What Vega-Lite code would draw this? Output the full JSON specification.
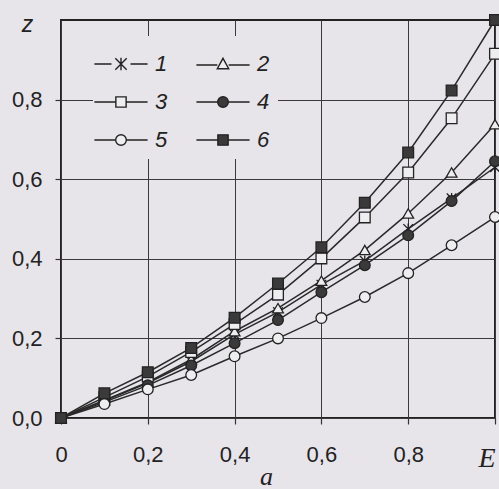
{
  "$schema": "https://vega.github.io/schema/vega-lite/v6.json",
  "width": 434,
  "height": 398,
  "autosize": "none",
  "padding": {"left": 61, "top": 20, "right": 4, "bottom": 71},
  "background": "#e7e5ea",
  "config": {"view": {"stroke": "#222", "strokeWidth": 2}, "font": "Liberation Sans"},
  "data": {"values": [
    {"s":"1","x":0,"z":0},{"s":"1","x":0.1,"z":0.043},{"s":"1","x":0.2,"z":0.088},{"s":"1","x":0.3,"z":0.142},{"s":"1","x":0.4,"z":0.21},{"s":"1","x":0.5,"z":0.266},{"s":"1","x":0.6,"z":0.335},{"s":"1","x":0.7,"z":0.395},{"s":"1","x":0.8,"z":0.475},{"s":"1","x":0.9,"z":0.552},{"s":"1","x":1.0,"z":0.63},
    {"s":"2","x":0,"z":0},{"s":"2","x":0.1,"z":0.045},{"s":"2","x":0.2,"z":0.09},{"s":"2","x":0.3,"z":0.147},{"s":"2","x":0.4,"z":0.218},{"s":"2","x":0.5,"z":0.276},{"s":"2","x":0.6,"z":0.345},{"s":"2","x":0.7,"z":0.422},{"s":"2","x":0.8,"z":0.514},{"s":"2","x":0.9,"z":0.617},{"s":"2","x":1.0,"z":0.738},
    {"s":"3","x":0,"z":0},{"s":"3","x":0.1,"z":0.052},{"s":"3","x":0.2,"z":0.104},{"s":"3","x":0.3,"z":0.166},{"s":"3","x":0.4,"z":0.236},{"s":"3","x":0.5,"z":0.31},{"s":"3","x":0.6,"z":0.401},{"s":"3","x":0.7,"z":0.504},{"s":"3","x":0.8,"z":0.617},{"s":"3","x":0.9,"z":0.753},{"s":"3","x":1.0,"z":0.915},
    {"s":"4","x":0,"z":0},{"s":"4","x":0.1,"z":0.04},{"s":"4","x":0.2,"z":0.082},{"s":"4","x":0.3,"z":0.132},{"s":"4","x":0.4,"z":0.188},{"s":"4","x":0.5,"z":0.246},{"s":"4","x":0.6,"z":0.316},{"s":"4","x":0.7,"z":0.384},{"s":"4","x":0.8,"z":0.459},{"s":"4","x":0.9,"z":0.545},{"s":"4","x":1.0,"z":0.645},
    {"s":"5","x":0,"z":0},{"s":"5","x":0.1,"z":0.035},{"s":"5","x":0.2,"z":0.072},{"s":"5","x":0.3,"z":0.108},{"s":"5","x":0.4,"z":0.155},{"s":"5","x":0.5,"z":0.2},{"s":"5","x":0.6,"z":0.251},{"s":"5","x":0.7,"z":0.304},{"s":"5","x":0.8,"z":0.364},{"s":"5","x":0.9,"z":0.434},{"s":"5","x":1.0,"z":0.505},
    {"s":"6","x":0,"z":0},{"s":"6","x":0.1,"z":0.062},{"s":"6","x":0.2,"z":0.115},{"s":"6","x":0.3,"z":0.176},{"s":"6","x":0.4,"z":0.252},{"s":"6","x":0.5,"z":0.338},{"s":"6","x":0.6,"z":0.429},{"s":"6","x":0.7,"z":0.541},{"s":"6","x":0.8,"z":0.667},{"s":"6","x":0.9,"z":0.823},{"s":"6","x":1.0,"z":1.0}
  ]},
  "encoding": {
    "x": {"field": "x", "type": "quantitative", "scale": {"domain": [0, 1], "nice": false},
      "axis": {"values": [0, 0.2, 0.4, 0.6, 0.8, 1],
        "labelExpr": "datum.value == 0 ? '0' : datum.value == 1 ? 'E' : replace(format(datum.value, '.1f'), '.', ',')",
        "labelFont": {"condition": {"test": "datum.value == 1", "value": "Liberation Serif"}, "value": "Liberation Sans"},
        "labelFontStyle": {"condition": {"test": "datum.value == 1", "value": "italic"}, "value": "normal"},
        "labelFontSize": {"condition": {"test": "datum.value == 1", "value": 28}, "value": 22},
        "labelAlign": {"condition": {"test": "datum.value == 1", "value": "right"}, "value": "center"},
        "labelColor": "#222", "labelPadding": 20, "labelBaseline": "top", "labelFlush": false, "labelOverlap": false,
        "tickSize": 6, "tickColor": "#333", "tickWidth": 1.2, "domain": false,
        "grid": true, "gridColor": "#3a3a3a", "gridWidth": 1, "gridOpacity": 1,
        "title": "a", "titleFont": "Liberation Serif", "titleFontStyle": "italic", "titleFontWeight": "normal", "titleFontSize": 26, "titleColor": "#222",
        "titleX": 205, "titleY": 58, "titleBaseline": "middle", "titleAlign": "center"}},
    "y": {"field": "z", "type": "quantitative", "scale": {"domain": [0, 1], "nice": false},
      "axis": {"values": [0, 0.2, 0.4, 0.6, 0.8],
        "labelExpr": "replace(format(datum.value, '.1f'), '.', ',')",
        "labelFontSize": 22, "labelColor": "#222", "labelPadding": 13,
        "tickSize": 6, "tickColor": "#333", "tickWidth": 1.2, "domain": false,
        "grid": true, "gridColor": "#3a3a3a", "gridWidth": 1, "gridOpacity": 1,
        "title": "z", "titleAngle": 0, "titleFont": "Liberation Sans", "titleFontStyle": "italic", "titleFontWeight": "normal", "titleFontSize": 23, "titleColor": "#222",
        "titleX": -34, "titleY": 4, "titleAlign": "center", "titleBaseline": "middle"}}
  },
  "layer": [
    {"mark": {"type": "line", "stroke": "#2a2a2a", "strokeWidth": 1.5},
     "encoding": {"detail": {"field": "s", "type": "nominal"}}},
    {"mark": {"type": "point", "filled": true, "stroke": "#222", "strokeWidth": 1.3, "size": 115, "opacity": 1},
     "encoding": {
       "shape": {"field": "s", "type": "nominal",
         "scale": {"domain": ["6","5","4","3","2","1"], "range": ["square", "circle", "circle", "square", "triangle-up", "M0,-1V1M-0.9,-0.9L0.9,0.9M-0.9,0.9L0.9,-0.9"]},
         "legend": null},
       "fill": {"field": "s", "type": "nominal",
         "scale": {"domain": ["1","2","3","4","5","6"], "range": ["#e7e5ea", "#eeedf0", "#eeedf0", "#3a3a3a", "#eeedf0", "#3a3a3a"]},
         "legend": {"orient": "none", "legendX": 32, "legendY": 16, "columns": 2, "direction": "horizontal", "title": null,
           "symbolSize": 1444,
           "symbolType": {"expr": "datum.value == '1' ? 'M-1.4,0H-0.5M0.5,0H1.4M0,-0.33V0.33M-0.3,-0.3L0.3,0.3M-0.3,0.3L0.3,-0.3' : datum.value == '2' ? 'M-1.4,0.05H-0.3M0.3,0.05H1.4M0,-0.3L0.3,0.25H-0.3Z' : (datum.value == '3' || datum.value == '6') ? 'M-1.4,0H-0.27M0.27,0H1.4M-0.27,-0.27H0.27V0.27H-0.27Z' : 'M-1.4,0H-0.28M0.28,0H1.4M-0.28,0A0.28,0.28 0 1,1 0.28,0A0.28,0.28 0 1,1 -0.28,0Z'"},
           "symbolStrokeColor": "#222", "symbolStrokeWidth": 1.4,
           "labelFont": "Liberation Sans", "labelFontStyle": "italic", "labelFontSize": 22, "labelColor": "#222",
           "labelOffset": 14, "columnPadding": 25, "rowPadding": 7, "padding": 8, "fillColor": "#e7e5ea"}}
     }}
  ]
}
